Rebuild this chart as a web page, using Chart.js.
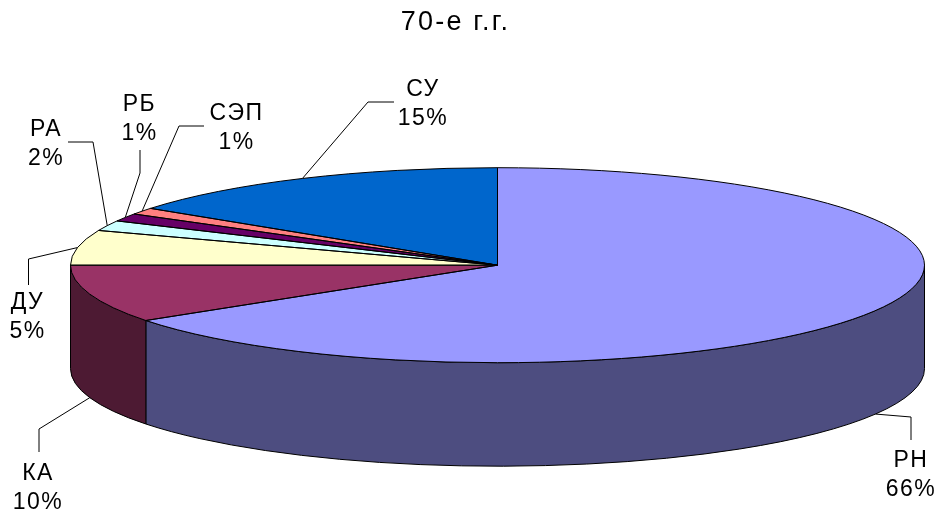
<!DOCTYPE html>
<html>
<head>
<meta charset="utf-8">
<style>html,body{margin:0;padding:0;background:#fff}#w{width:938px;height:510px}</style>
<script src="https://cdn.jsdelivr.net/npm/chart.js@4/dist/chart.umd.min.js"></script>
</head>
<body>
<div id="w"><canvas id="c" width="938" height="510"></canvas></div>
<script>
const titleText = '70-е г.г.';
const categories = ['РН', 'КА', 'ДУ', 'РА', 'РБ', 'СЭП', 'СУ'];
const values = [65.4, 9.6, 5.8, 1.7, 1.3, 1.1, 15.1];
const percentLabels = ['66%', '10%', '5%', '2%', '1%', '1%', '15%'];

const topColors = ['#9999FF', '#993366', '#FFFFCC', '#CCFFFF', '#660066', '#FF8080', '#0066CC'];
const wallColors = ['#4D4D80', '#4D1A33', '#80806A', '#6A8080', '#330033', '#804040', '#003366'];

// layout of the flattened 3D look
const squash = 427 / 97.5;
const radius = 97.5;
const depth = 103.5;
const fontPx = 23;
const lineGap = 29;
// per-slice: elbow and end of the leader line, label centre
const callouts = [
  {pts: [[911, 417], [911, 440]], at: [911, 461]},
  {pts: [[39, 429], [39, 452]], at: [38, 474]},
  {pts: [[28.5, 259], [28.5, 285]], at: [27.5, 303]},
  {pts: [[93, 142], [68, 142]], at: [46, 130]},
  {pts: [[140, 173], [140, 150]], at: [139.5, 105]},
  {pts: [[179, 126], [204, 126]], at: [236.5, 114]},
  {pts: [[368, 102], [394, 102]], at: [423, 90]}
];

const pie3d = {
  id: 'pie3d',
  afterLayout(chart) {
    chart.titleBlock.left -= 42;
    chart.titleBlock.right -= 42;
  },
  beforeDraw(chart) {
    chart.ctx.letterSpacing = '2.2px';
  },
  beforeDatasetsDraw(chart) {
    const ctx = chart.ctx;
    const els = chart.getDatasetMeta(0).data;
    const cx = els[0].x, cy = els[0].y;
    const rx = radius * squash, ry = radius;
    ctx.save();
    ctx.lineWidth = 1;
    ctx.strokeStyle = '#000';
    ctx.lineJoin = 'round';
    // side walls
    els.forEach((el, i) => {
      const a0 = Math.max(el.startAngle, 0), a1 = Math.min(el.endAngle, Math.PI);
      if (a0 >= a1) return;
      ctx.beginPath();
      ctx.ellipse(cx, cy, rx, ry, 0, a0, a1);
      ctx.ellipse(cx, cy + depth, rx, ry, 0, a1, a0, true);
      ctx.closePath();
      ctx.fillStyle = wallColors[i];
      ctx.fill();
      ctx.stroke();
    });
    // top face: the library's own arcs, stretched horizontally
    els.forEach(el => {
      ctx.save();
      ctx.translate(cx, cy);
      ctx.scale(squash, 1);
      ctx.translate(-cx, -cy);
      el.draw(ctx);
      ctx.restore();
    });
    // slice outlines with an even pen
    els.forEach(el => {
      ctx.beginPath();
      ctx.moveTo(cx, cy);
      ctx.ellipse(cx, cy, rx, ry, 0, el.startAngle, el.endAngle);
      ctx.closePath();
      ctx.stroke();
    });
    ctx.restore();
    return false;
  },
  afterDraw(chart) {
    const ctx = chart.ctx;
    const els = chart.getDatasetMeta(0).data;
    const cx = els[0].x, cy = els[0].y;
    const rx = radius * squash, ry = radius;
    ctx.save();
    ctx.lineWidth = 1;
    ctx.strokeStyle = '#000';
    ctx.fillStyle = '#000';
    ctx.font = fontPx + 'px "Liberation Sans", Arial, sans-serif';
    ctx.textAlign = 'center';
    ctx.textBaseline = 'middle';
    ctx.letterSpacing = '1.5px';
    els.forEach((el, i) => {
      const mid = (el.startAngle + el.endAngle) / 2;
      const sx = cx + rx * Math.cos(mid);
      let sy = cy + ry * Math.sin(mid);
      if (Math.sin(mid) > 0) sy += depth;
      const c = callouts[i];
      ctx.beginPath();
      ctx.moveTo(sx, sy);
      c.pts.forEach(p => ctx.lineTo(p[0], p[1]));
      ctx.stroke();
      ctx.fillText(categories[i], c.at[0], c.at[1]);
      ctx.fillText(percentLabels[i], c.at[0], c.at[1] + lineGap);
    });
    ctx.restore();
  }
};

new Chart(document.getElementById('c'), {
  type: 'pie',
  data: {
    labels: categories,
    datasets: [{
      data: values,
      backgroundColor: topColors,
      borderWidth: 0
    }]
  },
  options: {
    responsive: false,
    animation: false,
    radius: radius,
    layout: {padding: {left: 57, right: 0, top: 0, bottom: 23}},
    plugins: {
      legend: {display: false},
      tooltip: {enabled: false},
      title: {
        display: true,
        text: titleText,
        color: '#000',
        font: {family: '"Liberation Sans", Arial, sans-serif', size: 27, weight: 'normal', lineHeight: 1.2},
        padding: {top: 6, bottom: 5}
      }
    }
  },
  plugins: [pie3d]
});
</script>
</body>
</html>
